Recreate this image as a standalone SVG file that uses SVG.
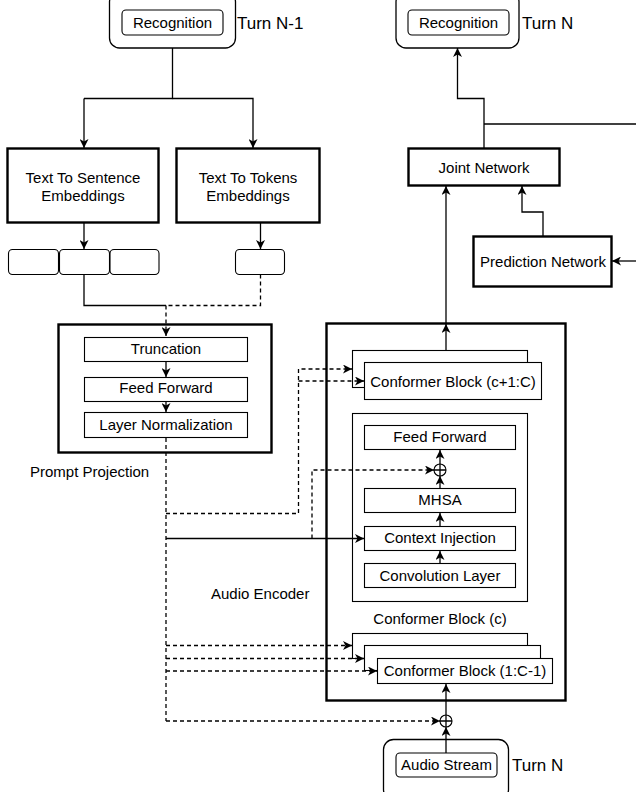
<svg xmlns="http://www.w3.org/2000/svg" width="636" height="792" viewBox="0 0 636 792">
<defs>
<marker id="arr" markerUnits="userSpaceOnUse" markerWidth="10" markerHeight="9" refX="9" refY="4.5" orient="auto">
<path d="M0,0 L9,4.5 L0,9 L2.5,4.5 Z" fill="#000"/>
</marker>
</defs>
<style>
text{font-family:"Liberation Sans",Arial,Helvetica,sans-serif;font-size:15px;fill:#000;}
.c{text-anchor:middle;}
.turn{font-size:17px;}
.thick{fill:#fff;stroke:#000;stroke-width:2.4;}
.thin{fill:#fff;stroke:#000;stroke-width:1.1;}
.outer{fill:#fff;stroke:#000;stroke-width:1.3;}
.ln{fill:none;stroke:#000;stroke-width:1.3;}
.dl{fill:none;stroke:#000;stroke-width:1.3;stroke-dasharray:4 3;}
.a{marker-end:url(#arr);}
.ring{fill:#fff;stroke:#000;stroke-width:1.1;}
</style>

<g id="recognition-n1">
<rect class="outer" x="109.5" y="-8" width="126" height="56" rx="10"/>
<rect class="thin" x="122" y="10" width="101" height="25" rx="4"/>
<text class="c" x="172.5" y="27.5">Recognition</text>
<text class="turn" x="237" y="29">Turn N-1</text>
</g>

<g id="recognition-n">
<rect class="outer" x="396" y="-8" width="123" height="56" rx="10"/>
<rect class="thin" x="408" y="10" width="101" height="25" rx="4"/>
<text class="c" x="458.5" y="27.5">Recognition</text>
<text class="turn" x="522" y="29">Turn N</text>
</g>

<g id="text-to-sentence">
<rect class="thick" x="7.5" y="148.5" width="151" height="74"/>
<text class="c" x="83" y="183">Text To Sentence</text>
<text class="c" x="83" y="201">Embeddings</text>
</g>

<g id="text-to-tokens">
<rect class="thick" x="176.5" y="148.5" width="143" height="74"/>
<text class="c" x="248" y="183">Text To Tokens</text>
<text class="c" x="248" y="201">Embeddings</text>
</g>

<g id="sentence-embeddings">
<rect class="thin" x="8.5" y="249.5" width="50" height="25" rx="4"/>
<rect class="thin" x="59.5" y="249.5" width="50" height="25" rx="4"/>
<rect class="thin" x="110" y="249.5" width="49" height="25" rx="4"/>
</g>

<g id="token-embedding">
<rect class="thin" x="235.5" y="249.5" width="49" height="25" rx="4"/>
</g>

<g id="joint-network">
<rect class="thick" x="408.5" y="148.5" width="151" height="37"/>
<text class="c" x="484" y="173">Joint Network</text>
</g>

<g id="prediction-network">
<rect class="thick" x="473.5" y="236.5" width="138" height="50"/>
<text class="c" x="543" y="267">Prediction Network</text>
</g>

<g id="prompt-projection">
<rect class="thick" x="58.5" y="324.5" width="213" height="128"/>
<rect class="thin" x="84.5" y="337.5" width="163" height="24"/>
<text class="c" x="166" y="354">Truncation</text>
<rect class="thin" x="84.5" y="377.5" width="163" height="24"/>
<text class="c" x="166" y="393">Feed Forward</text>
<rect class="thin" x="84.5" y="412.5" width="163" height="25"/>
<text class="c" x="166" y="430">Layer Normalization</text>
<text x="30" y="477">Prompt Projection</text>
</g>

<g id="audio-encoder">
<rect class="thick" x="326.5" y="323.5" width="239" height="377"/>
<text x="211" y="599">Audio Encoder</text>
</g>

<g id="conformer-top">
<rect class="thin" x="352.5" y="350.5" width="175" height="37"/>
<rect class="thin" x="364.5" y="362.5" width="177" height="37"/>
<text class="c" x="453" y="387">Conformer Block (c+1:C)</text>
</g>

<g id="conformer-c">
<rect class="thin" x="352.5" y="413.5" width="175" height="188"/>
<rect class="thin" x="364.5" y="425.5" width="151" height="24"/>
<text class="c" x="440" y="442">Feed Forward</text>
<rect class="thin" x="364.5" y="488.5" width="151" height="24"/>
<text class="c" x="440" y="505">MHSA</text>
<rect class="thin" x="364.5" y="526.5" width="151" height="24"/>
<text class="c" x="440" y="543">Context Injection</text>
<rect class="thin" x="364.5" y="563.5" width="151" height="24"/>
<text class="c" x="440" y="581">Convolution Layer</text>
<text class="c" x="440" y="624">Conformer Block (c)</text>
</g>

<g id="conformer-bottom">
<rect class="thin" x="352.5" y="633.5" width="175" height="25"/>
<rect class="thin" x="364.5" y="645.5" width="176" height="25"/>
<rect class="thin" x="377.5" y="658.5" width="175" height="25"/>
<text class="c" x="465" y="676">Conformer Block (1:C-1)</text>
</g>

<g id="audio-stream">
<rect class="outer" x="383.5" y="739.5" width="125" height="60" rx="10"/>
<rect class="thin" x="396" y="753" width="101" height="24" rx="4"/>
<text class="c" x="446.5" y="770">Audio Stream</text>
<text class="turn" x="512" y="771">Turn N</text>
</g>

<g id="sum-inner">
<circle class="ring" cx="440" cy="470" r="6"/>
<path class="ln" d="M434,470 H446 M440,464 V476"/>
</g>

<g id="sum-input">
<circle class="ring" cx="446" cy="721" r="6"/>
<path class="ln" d="M440,721 H452 M446,715 V727"/>
</g>

<g id="connectors">
<path class="ln" d="M172.5,48 V98.5 H84"/>
<path class="ln a" d="M84,98.5 V148"/>
<path class="ln a" d="M172.5,98.5 H253 V148"/>
<path class="ln a" d="M84,222.5 V249"/>
<path class="ln a" d="M260.5,222.5 V249"/>
<path class="ln" d="M84,274.5 V305.5 H166"/>
<path class="dl" d="M260.5,274.5 V305.5 H166"/>
<path class="dl a" d="M166,305.5 V336"/>
<path class="ln a" d="M166,362 V377"/>
<path class="ln a" d="M166,402 V412"/>
<path class="dl" d="M166,438 V721"/>
<path class="dl a" d="M166,513.5 H298.5 V369 H352"/>
<path class="dl a" d="M298.5,381 H364"/>
<path class="ln a" d="M166,538.5 H364"/>
<path class="dl a" d="M312,538.5 V470 H434"/>
<path class="dl a" d="M166,645.5 H352"/>
<path class="dl a" d="M166,658.5 H364"/>
<path class="dl a" d="M166,671 H377"/>
<path class="dl a" d="M166,721 H440"/>
<path class="ln a" d="M446,753 V727"/>
<path class="ln a" d="M446,715 V684"/>
<path class="ln a" d="M440,563 V551"/>
<path class="ln a" d="M440,526 V513"/>
<path class="ln a" d="M440,488 V476"/>
<path class="ln a" d="M440,464 V450"/>
<path class="ln a" d="M446,350 V324"/>
<path class="ln a" d="M446,323 V186"/>
<path class="ln a" d="M484,148 V98.5 H457.5 V48"/>
<path class="ln" d="M484,124 H636"/>
<path class="ln a" d="M543,236 V212 H522 V186"/>
<path class="ln a" d="M636,261 H612"/>
</g>
</svg>
